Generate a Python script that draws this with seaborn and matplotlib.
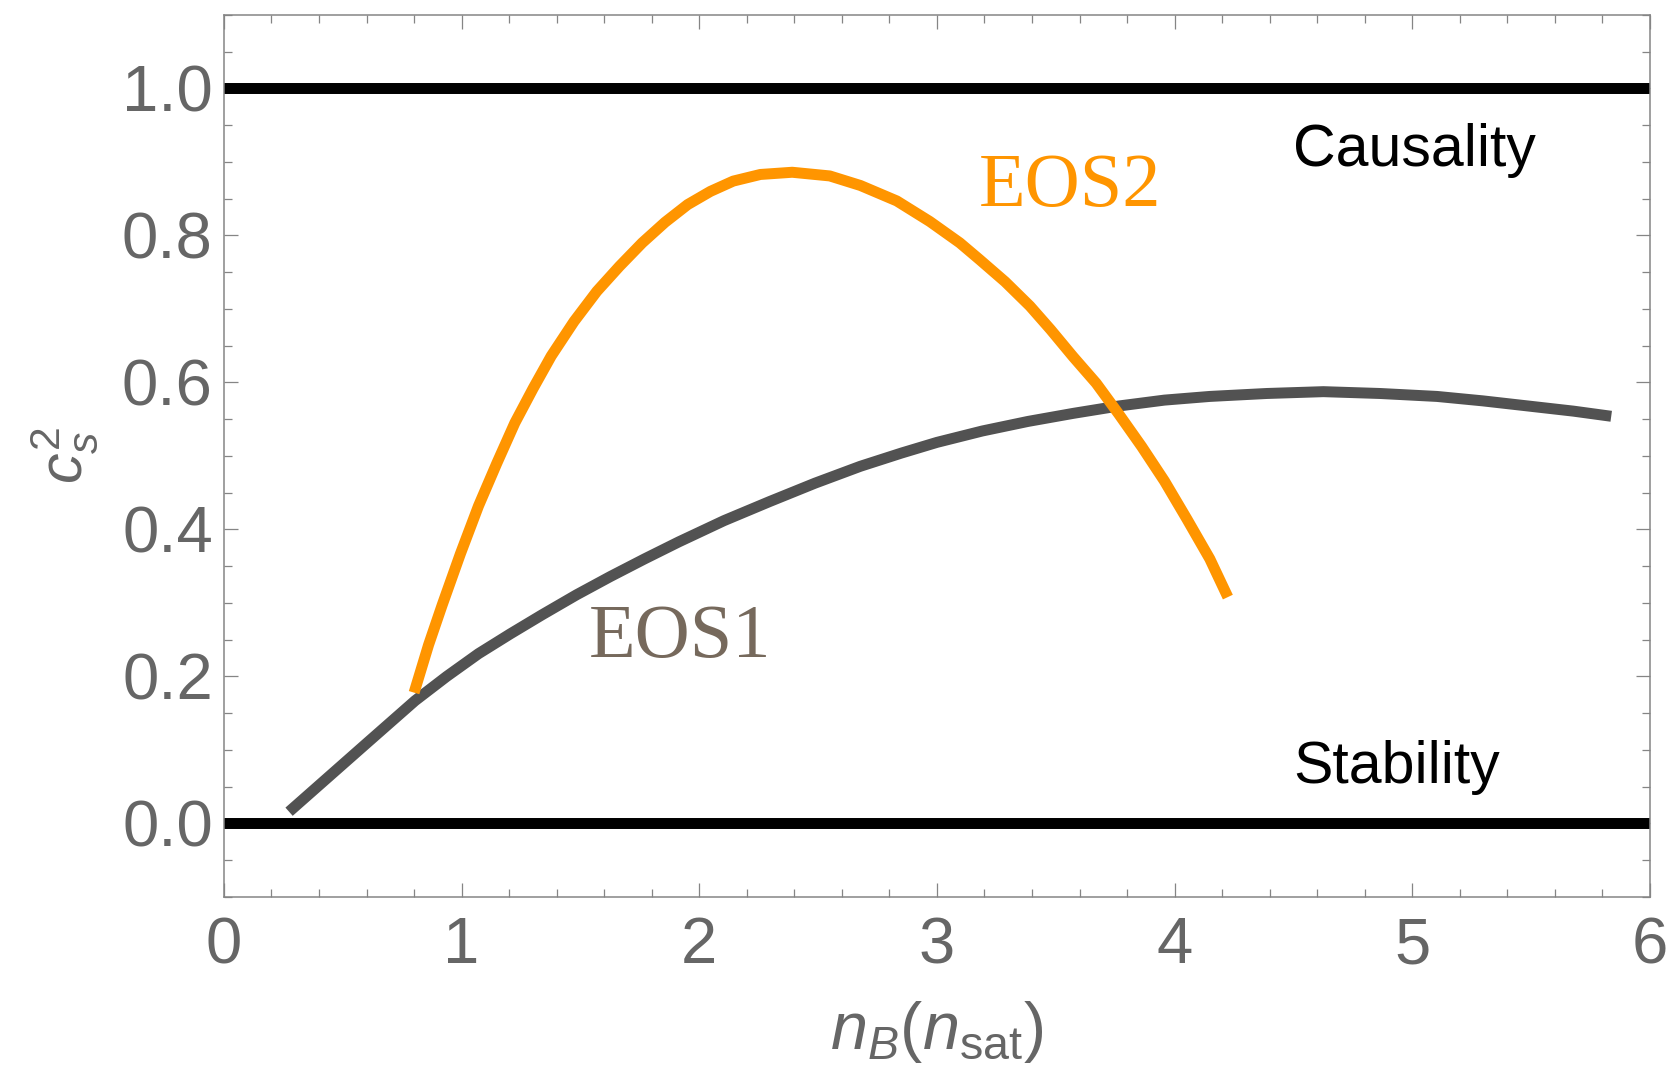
import matplotlib
matplotlib.use("Agg")
import matplotlib.pyplot as plt
import seaborn as sns
import pandas as pd
from matplotlib.ticker import MultipleLocator, FormatStrFormatter

# Squared speed of sound versus baryon density for two equations of state
eos1_nb = [0.274, 0.600, 0.804, 0.937, 1.071, 1.205, 1.339, 1.483, 1.626, 1.770,
           1.913, 2.104, 2.296, 2.487, 2.678, 2.851, 3.0, 3.191, 3.383, 3.574,
           3.765, 3.957, 4.148, 4.387, 4.626, 4.865, 5.104, 5.296, 5.487, 5.678,
           5.837]
eos1_cs2 = [0.016, 0.109, 0.167, 0.200, 0.231, 0.258, 0.284, 0.311, 0.336, 0.360,
            0.383, 0.412, 0.438, 0.463, 0.486, 0.504, 0.5185, 0.534, 0.547, 0.558,
            0.568, 0.576, 0.581, 0.585, 0.5875, 0.585, 0.581, 0.575, 0.568, 0.561,
            0.554]

eos2_nb = [0.800, 0.861, 0.918, 0.995, 1.071, 1.148, 1.224, 1.301, 1.377, 1.473,
           1.569, 1.664, 1.760, 1.856, 1.951, 2.047, 2.143, 2.257, 2.391, 2.549,
           2.678, 2.831, 2.970, 3.096, 3.180, 3.287, 3.391, 3.478, 3.573, 3.670,
           3.765, 3.861, 3.957, 4.052, 4.148, 4.224]
eos2_cs2 = [0.178, 0.243, 0.297, 0.367, 0.432, 0.490, 0.545, 0.592, 0.636, 0.683,
            0.724, 0.758, 0.790, 0.818, 0.842, 0.860, 0.874, 0.883, 0.886, 0.881,
            0.868, 0.847, 0.819, 0.790, 0.767, 0.737, 0.704, 0.672, 0.635, 0.599,
            0.557, 0.513, 0.466, 0.414, 0.360, 0.308]

# Physical bounds: causality (c_s^2 = 1) and stability (c_s^2 = 0)
bound_values = [1.0, 0.0]
bound_names = ["Causality", "Stability"]
bound_label_y = [0.894, 0.0545]

x_ticks = [0, 1, 2, 3, 4, 5, 6]
y_ticks = [0.0, 0.2, 0.4, 0.6, 0.8, 1.0]

sns.set_theme(style="ticks")
plt.rcParams["font.family"] = ["Liberation Sans", "DejaVu Sans"]
plt.rcParams["mathtext.fontset"] = "custom"
plt.rcParams["mathtext.rm"] = "Liberation Sans"
plt.rcParams["mathtext.it"] = "Liberation Sans:italic"
plt.rcParams["mathtext.bf"] = "Liberation Sans:bold"

fig = plt.figure(figsize=(16.7, 10.85), dpi=100)
ax = fig.add_axes([0.1341, 0.1733, 0.988 - 0.1341, 0.9862 - 0.1733])

df1 = pd.DataFrame({"nB": eos1_nb, "cs2": eos1_cs2})
df2 = pd.DataFrame({"nB": eos2_nb, "cs2": eos2_cs2})

lw = 7.9
sns.lineplot(data=df1, x="nB", y="cs2", ax=ax, color="#525252", lw=lw,
             solid_capstyle="butt", solid_joinstyle="round", sort=False, zorder=3)
sns.lineplot(data=df2, x="nB", y="cs2", ax=ax, color="#FF9500", lw=lw,
             solid_capstyle="butt", solid_joinstyle="round", sort=False, zorder=4)

for val in bound_values:
    ax.axhline(val, color="black", lw=lw, zorder=2)

for name, yv in zip(bound_names, bound_label_y):
    ax.text(4.5, yv, name, fontsize=42.5, color="black", ha="left", va="baseline")

serif = ["Liberation Serif", "DejaVu Serif"]
ax.text(1.537, 0.226, "EOS1", fontsize=55, color="#76695C", family=serif,
        ha="left", va="baseline")
ax.text(3.176, 0.8407, "EOS2", fontsize=55, color="#FF9500", family=serif,
        ha="left", va="baseline")

ax.set_xlim(0, 6)
ax.set_ylim(-0.1, 1.1)
ax.set_xticks(x_ticks)
ax.set_yticks(y_ticks)
ax.xaxis.set_minor_locator(MultipleLocator(0.2))
ax.yaxis.set_minor_locator(MultipleLocator(0.05))
ax.yaxis.set_major_formatter(FormatStrFormatter("%.1f"))
ax.xaxis.set_major_formatter(FormatStrFormatter("%d"))

spine_col = "#858585"
for s in ax.spines.values():
    s.set_visible(True)
    s.set_color(spine_col)
    s.set_linewidth(1.1)

ax.tick_params(which="both", direction="in", top=True, right=True,
               color=spine_col, width=0.9, labelcolor="#666666")
ax.tick_params(which="major", length=10, labelsize=47)
ax.tick_params(which="minor", length=5.8)
ax.tick_params(axis="x", which="major", pad=14)
ax.tick_params(axis="y", which="major", pad=8)

ax.set_xlabel(r"$n_B(n_{\mathrm{sat}})$", fontsize=48, color="#666666", labelpad=16)
ax.set_ylabel(r"$c_s^2$", fontsize=44, color="#666666", labelpad=16)

fig.savefig("out.png", dpi=100)
